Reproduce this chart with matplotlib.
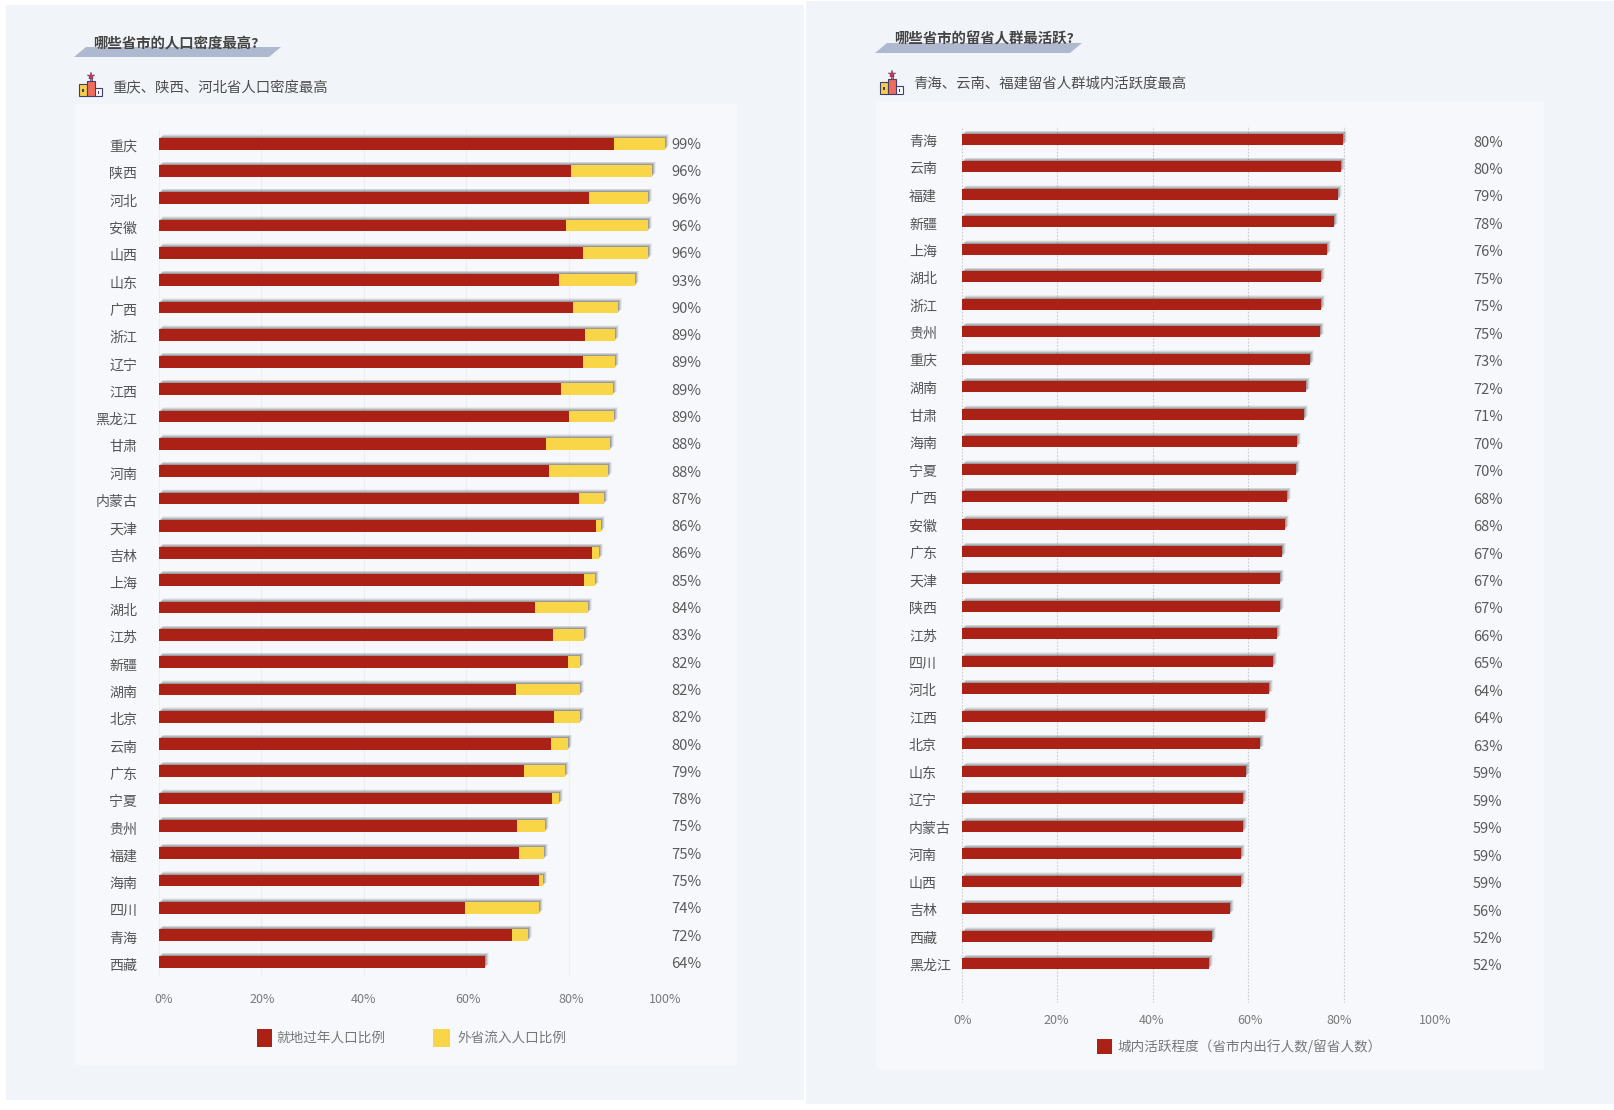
import matplotlib
matplotlib.use('Agg')
from matplotlib import pyplot as plt
from matplotlib.patches import Polygon, Rectangle
from matplotlib.transforms import Affine2D

plt.rcParams['font.family'] = ['Noto Sans CJK SC', 'DejaVu Sans']

W, H = 1614, 1110
RED = '#ab2116'
YELLOW = '#f9d548'

density_names = ['重庆', '陕西', '河北', '安徽', '山西', '山东', '广西', '浙江', '辽宁', '江西', '黑龙江',
                 '甘肃', '河南', '内蒙古', '天津', '吉林', '上海', '湖北', '江苏', '新疆', '湖南', '北京',
                 '云南', '广东', '宁夏', '贵州', '福建', '海南', '四川', '青海', '西藏']
density_local = [88.9, 80.4, 83.9, 79.4, 82.9, 78.2, 80.9, 83.3, 82.9, 78.6, 80.1,
                 75.5, 76.1, 82.1, 85.3, 84.5, 83.1, 73.4, 76.9, 79.9, 69.7, 77.1,
                 76.5, 71.3, 76.8, 70.0, 70.4, 74.2, 59.8, 69.0, 63.6]
density_inflow = [10.0, 15.8, 11.6, 16.1, 12.6, 14.8, 8.7, 5.8, 6.2, 10.1, 8.8,
                  12.5, 11.6, 4.9, 1.0, 1.5, 2.0, 10.3, 6.2, 2.3, 12.5, 5.1,
                  3.4, 8.0, 1.4, 5.4, 4.8, 0.8, 14.4, 3.0, 0.0]
density_labels = [99, 96, 96, 96, 96, 93, 90, 89, 89, 89, 89,
                  88, 88, 87, 86, 86, 85, 84, 83, 82, 82, 82,
                  80, 79, 78, 75, 75, 75, 74, 72, 64]

active_names = ['青海', '云南', '福建', '新疆', '上海', '湖北', '浙江', '贵州', '重庆', '湖南', '甘肃',
                '海南', '宁夏', '广西', '安徽', '广东', '天津', '陕西', '江苏', '四川', '河北', '江西',
                '北京', '山东', '辽宁', '内蒙古', '河南', '山西', '吉林', '西藏', '黑龙江']
active_values = [79.9, 79.4, 78.7, 78.0, 76.4, 75.3, 75.3, 75.0, 72.9, 72.0, 71.6,
                 70.1, 69.9, 68.1, 67.7, 67.1, 66.6, 66.6, 66.0, 65.1, 64.3, 63.4,
                 62.5, 59.5, 58.9, 58.9, 58.4, 58.4, 56.1, 52.4, 51.8]
active_labels = [80, 80, 79, 78, 76, 75, 75, 75, 73, 72, 71,
                 70, 70, 68, 68, 67, 67, 67, 66, 65, 64, 64,
                 63, 59, 59, 59, 59, 59, 56, 52, 52]

x_ticks = [0, 20, 40, 60, 80, 100]
x_tick_labels = ['0%', '20%', '40%', '60%', '80%', '100%']


def px(x):
    return x * 0.72


def draw_icon(ax, x, y):
    # little podium with a star, x/y is the top left corner
    navy = '#3f3f6e'
    ax.add_patch(Rectangle((x, y + 11), 8, 12, fc='#f7cf45', ec=navy, lw=0.8))
    ax.add_patch(Rectangle((x + 15, y + 15), 8, 8, fc='#f7f8fc', ec=navy, lw=0.8))
    ax.add_patch(Rectangle((x + 7.5, y + 8), 8, 15, fc='#ee6c5c', ec=navy, lw=0.8))
    ax.add_patch(Rectangle((x + 10.5, y + 5), 2, 3, fc='#ee6c5c', ec=navy, lw=0.5))
    ax.plot([x + 11.5], [y + 3], marker='*', ms=6, color='#d8344a', mec=navy, mew=0.3)
    ax.add_patch(Rectangle((x + 3, y + 16), 1.5, 3, fc=navy, lw=0))
    ax.add_patch(Rectangle((x + 18.5, y + 18), 1.5, 2.5, fc=navy, lw=0))


def draw_header(ax, title, sub, tx, ty, bx, by, sx, sy, ix, iy):
    ax.add_patch(Polygon([(bx + 12, by), (bx + 207, by), (bx + 195, by + 10), (bx, by + 10)],
                         fc='#aeb8cf', lw=0))
    ax.text(tx, ty, title, fontsize=px(14.4), fontweight='bold', color='#444444', va='center')
    ax.text(sx, sy, sub, fontsize=px(14.4), color='#4d4d4d', va='center')
    draw_icon(ax, ix, iy)


def draw_shadow(ax, y, widths, height):
    # soft grey edge on the top and right of the bars
    for dx, dy, alpha in [(4, 3.5, 0.07), (3, 3, 0.13), (2, 2, 0.20), (1, 1, 0.25)]:
        shift = Affine2D().translate(dx, dy)
        ax.barh(y, widths, height=height, color='#444444', alpha=alpha, lw=0,
                transform=ax.transData + shift, zorder=1.5)


def style_axes(ax, pad, tick_nudges):
    ax.set_xlim(0, 100)
    ax.patch.set_visible(False)
    for side in ax.spines:
        ax.spines[side].set_visible(False)
    ax.set_xticks(x_ticks)
    ax.set_xticklabels(x_tick_labels)
    ax.tick_params(axis='x', length=0, pad=pad, labelsize=px(12.5), labelcolor='#7a7a7a')
    ax.tick_params(axis='y', length=0, labelsize=px(14), labelcolor='#555555')
    for label, nudge in zip(ax.get_xticklabels(), tick_nudges):
        label.set_transform(label.get_transform() + Affine2D().translate(nudge, 0))


def axes_at(fig, left, top, right, bottom):
    return fig.add_axes([left / W, 1 - bottom / H, (right - left) / W, (bottom - top) / H])


fig = plt.figure(figsize=(W / 100, H / 100), dpi=100, facecolor='white')

bg = fig.add_axes([0, 0, 1, 1])
bg.set_xlim(0, W)
bg.set_ylim(H, 0)
bg.axis('off')
bg.add_patch(Rectangle((6, 5), 798, 1095, fc='#f1f4f9', lw=0))
bg.add_patch(Rectangle((806, 1), 808, 1103, fc='#f1f4f9', lw=0))
bg.add_patch(Rectangle((75, 104), 662, 961, fc='#f7f8fc', lw=0))
bg.add_patch(Rectangle((876, 101), 668, 968, fc='#f7f8fc', lw=0))

draw_header(bg, '哪些省市的人口密度最高?', '重庆、陕西、河北省人口密度最高',
            93, 43.5, 74, 47, 112.5, 88, 79, 73)
draw_header(bg, '哪些省市的留省人群最活跃?', '青海、云南、福建留省人群城内活跃度最高',
            894, 39, 875, 43, 913, 84, 880, 71)

# left chart: stacked bars
ax1 = axes_at(fig, 159, 130, 671, 976)
rows = list(range(len(density_names)))
totals = [a + b for a, b in zip(density_local, density_inflow)]
draw_shadow(ax1, rows, totals, 0.43)
ax1.barh(rows, density_local, height=0.43, color=RED, zorder=2, label='就地过年人口比例')
ax1.barh(rows, density_inflow, left=density_local, height=0.43, color=YELLOW, zorder=2,
         label='外省流入人口比例')
ax1.set_ylim(30.5, -0.5)
ax1.grid(axis='x', color='#eceef3', lw=0.8)
ax1.set_axisbelow(True)
style_axes(ax1, px(17), [5, 1, 0, 2, 3, -6])
ax1.set_yticks(rows)
ax1.set_yticklabels(density_names)
ax1.tick_params(axis='y', pad=px(21.5))
for label in ax1.get_yticklabels():
    label.set_transform(label.get_transform() + Affine2D().translate(0, -2))
for i, val in enumerate(density_labels):
    ax1.annotate(f'{val}%', (1, i), xycoords=('axes fraction', 'data'), xytext=(0, -1.5),
                 textcoords='offset pixels', fontsize=px(14.8), color='#5a5a5a', va='center')

# right chart: single series
ax2 = axes_at(fig, 961.5, 125.5, 1439.5, 1002.5)
rows = list(range(len(active_names)))
draw_shadow(ax2, rows, active_values, 0.40)
ax2.barh(rows, active_values, height=0.40, color=RED, zorder=2, label='城内活跃程度（省市内出行人数/留省人数）')
ax2.set_ylim(31.42, -0.51)
ax2.grid(axis='x', color='#c9cbd0', lw=0.8, ls=(0, (1.5, 1.5)))
ax2.set_axisbelow(True)
style_axes(ax2, px(12), [1.5, -1, -1, 2, -5, -4.5])
ax2.set_yticks(rows)
ax2.set_yticklabels(active_names)
ax2.tick_params(axis='y', pad=px(53))
for label in ax2.get_yticklabels():
    label.set_ha('left')
    label.set_transform(label.get_transform() + Affine2D().translate(0.5, -1))
for i, val in enumerate(active_labels):
    ax2.annotate(f'{val}%', (1, i), xycoords=('axes fraction', 'data'), xytext=(33.5, -3),
                 textcoords='offset pixels', fontsize=px(14.6), color='#5a5a5a', va='center')

# legends
legend_style = dict(fontsize=px(13.6), color='#777777', va='center')
bg.add_patch(Rectangle((256.5, 1029), 15.5, 18, fc=RED, lw=0))
bg.text(276.5, 1038.5, '就地过年人口比例', **legend_style)
bg.add_patch(Rectangle((433, 1029), 17, 18, fc=YELLOW, lw=0))
bg.text(457.5, 1038.5, '外省流入人口比例', **legend_style)
bg.add_patch(Rectangle((1097, 1039), 15, 15, fc=RED, lw=0))
bg.text(1117, 1047, '城内活跃程度（省市内出行人数/留省人数）', **legend_style)

fig.savefig('out.png', dpi=100, facecolor='white')
